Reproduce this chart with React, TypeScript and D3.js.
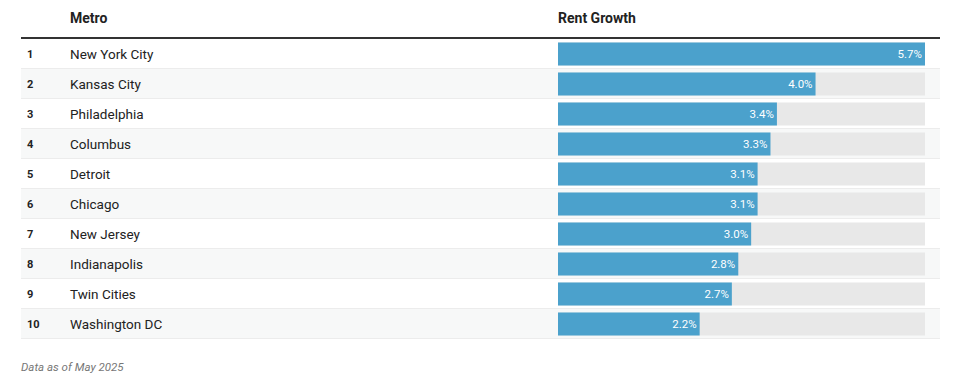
import React, { useEffect, useRef } from 'react'
import * as d3 from 'd3'

const WIDTH = 954
const HEIGHT = 384

const metros = [
  'New York City',
  'Kansas City',
  'Philadelphia',
  'Columbus',
  'Detroit',
  'Chicago',
  'New Jersey',
  'Indianapolis',
  'Twin Cities',
  'Washington DC',
]
const rentGrowth = [5.7, 4.0, 3.4, 3.3, 3.1, 3.1, 3.0, 2.8, 2.7, 2.2]

const TABLE_LEFT = 21
const TABLE_RIGHT = 940
const HEADER_LINE = 38
const ROW_H = 30
const BAR_LEFT = 558
const BAR_RIGHT = 925
const BAR_H = 23
const FONT = 'Roboto, "Noto Sans", sans-serif'
const BLUE = '#4ba1cc'

export default function App() {
  const ref = useRef<SVGSVGElement>(null)

  useEffect(() => {
    const svg = d3.select(ref.current)
    svg.selectAll('*').remove()

    const rows = metros.map((name, i) => ({ rank: i + 1, name, value: rentGrowth[i] }))

    const yScale = d3.scaleBand()
      .domain(rows.map((d) => d.name))
      .range([HEADER_LINE + 1, HEADER_LINE + 1 + ROW_H * rows.length])
      .padding(0)

    const xScale = d3.scaleLinear()
      .domain([0, d3.max(rentGrowth) as number])
      .range([BAR_LEFT, BAR_RIGHT])

    // header
    const header = svg.append('g').attr('font-family', FONT).attr('font-weight', 700)
      .attr('font-size', 14).attr('fill', '#222')
    header.append('text').attr('x', 70).attr('y', 23).text('Metro')
    header.append('text').attr('x', BAR_LEFT).attr('y', 23).text('Rent Growth')

    const rowG = svg.append('g').selectAll('g')
      .data(rows)
      .enter()
      .append('g')
      .attr('transform', (d) => `translate(0, ${yScale(d.name)})`)

    rowG.append('rect')
      .attr('x', TABLE_LEFT)
      .attr('width', TABLE_RIGHT - TABLE_LEFT)
      .attr('height', ROW_H)
      .attr('fill', (d) => (d.rank % 2 === 0 ? '#f7f8f8' : '#ffffff'))

    rowG.append('line')
      .attr('x1', TABLE_LEFT)
      .attr('x2', TABLE_RIGHT)
      .attr('y1', ROW_H - 0.5)
      .attr('y2', ROW_H - 0.5)
      .attr('stroke', '#ececec')
      .attr('stroke-width', 1)

    rowG.append('text')
      .attr('x', 27)
      .attr('y', ROW_H / 2 + 4)
      .attr('font-family', FONT)
      .attr('font-size', 11)
      .attr('font-weight', 700)
      .attr('fill', '#222')
      .text((d) => d.rank)

    rowG.append('text')
      .attr('x', 70)
      .attr('y', ROW_H / 2 + 5)
      .attr('font-family', FONT)
      .attr('font-size', 13.5)
      .attr('fill', '#222')
      .text((d) => d.name)

    const barY = (ROW_H - BAR_H) / 2

    rowG.append('rect')
      .attr('x', BAR_LEFT)
      .attr('y', barY)
      .attr('width', BAR_RIGHT - BAR_LEFT)
      .attr('height', BAR_H)
      .attr('fill', '#e8e8e8')

    rowG.append('rect')
      .attr('x', BAR_LEFT)
      .attr('y', barY)
      .attr('width', (d) => xScale(d.value) - BAR_LEFT)
      .attr('height', BAR_H)
      .attr('fill', BLUE)

    rowG.append('text')
      .attr('x', (d) => xScale(d.value) - 3)
      .attr('y', ROW_H / 2 + 4)
      .attr('text-anchor', 'end')
      .attr('font-family', FONT)
      .attr('font-size', 11.5)
      .attr('fill', '#ffffff')
      .text((d) => `${d.value.toFixed(1)}%`)

    // thick header rule
    svg.append('line')
      .attr('x1', TABLE_LEFT)
      .attr('x2', TABLE_RIGHT)
      .attr('y1', HEADER_LINE)
      .attr('y2', HEADER_LINE)
      .attr('stroke', '#333')
      .attr('stroke-width', 2)

    svg.append('text')
      .attr('x', TABLE_LEFT)
      .attr('y', 371)
      .attr('font-family', FONT)
      .attr('font-size', 11.5)
      .attr('font-style', 'italic')
      .attr('fill', '#777')
      .text('Data as of May 2025')
  }, [])

  return (
    <svg
      ref={ref}
      width={WIDTH}
      height={HEIGHT}
      style={{ position: 'absolute', left: 0, top: 0, background: '#fff' }}
    />
  )
}
